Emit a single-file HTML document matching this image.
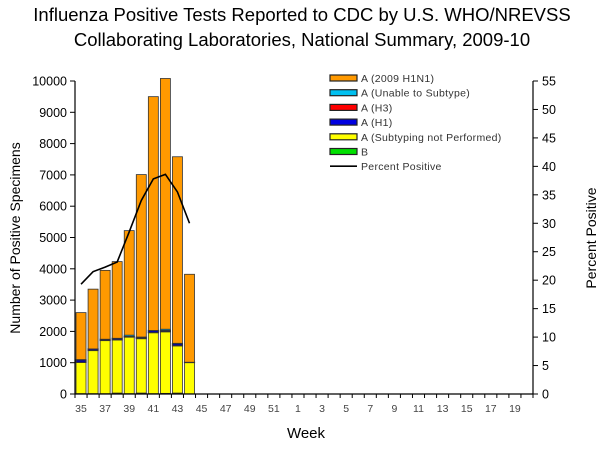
<!DOCTYPE html>
<html><head><meta charset="utf-8"><style>
body{margin:0;background:#fff;}
svg{display:block;font-family:"Liberation Sans",Arial,sans-serif;}
</style></head><body>
<svg id="chart" width="600" height="450" viewBox="0 0 600 450">
<text x="302" y="21" text-anchor="middle" font-size="18.5" fill="#000">Influenza Positive Tests Reported to CDC by U.S. WHO/NREVSS</text>
<text x="302" y="46" text-anchor="middle" font-size="18.5" fill="#000">Collaborating Laboratories, National Summary, 2009-10</text>
<g id="plot"></g>
<text transform="translate(20,238) rotate(-90)" text-anchor="middle" font-size="14">Number of Positive Specimens</text>
<text transform="translate(596,238) rotate(-90)" text-anchor="middle" font-size="14">Percent Positive</text>
<text x="306" y="438" text-anchor="middle" font-size="15">Week</text>
<g id="legend"></g>
</svg>
<script>
const weeks=[35,36,37,38,39,40,41,42,43,44,45,46,47,48,49,50,51,52,1,2,3,4,5,6,7,8,9,10,11,12,13,14,15,16,17,18,19,20];
const bVals=[10,10,10,30,10,30,10,20,30,5];
const notSubtyped=[1000,1380,1700,1700,1810,1740,1950,1970,1510,1000];
const h1Vals=[80,50,40,50,20,40,70,40,70,10];
const h3Vals=[0,0,0,0,0,0,0,0,0,0];
const unableVals=[10,0,0,0,40,10,0,40,10,0];
const h1n1Vals=[1500,1910,2200,2450,3340,5190,7470,8010,5960,2810];
const pctPos=[19.3,21.5,22.3,23.2,28.5,34,37.8,38.6,35.5,30];
const yTicks=[0,1000,2000,3000,4000,5000,6000,7000,8000,9000,10000];
const y2Ticks=[0,5,10,15,20,25,30,35,40,45,50,55];
const NS="http://www.w3.org/2000/svg";
const L=75,R=533,T=81,B=394,YMAX=10000,Y2MAX=55;
const band=(R-L)/weeks.length;
const xc=i=>L+band*(i+0.5);
const y=v=>B-(v/YMAX)*(B-T);
const y2=v=>B-(v/Y2MAX)*(B-T);
const plot=document.getElementById('plot');
function mk(tag,attrs){const e=document.createElementNS(NS,tag);for(const k in attrs)e.setAttribute(k,attrs[k]);plot.appendChild(e);return e;}
// bars
const series=[[bVals,'#00e000','b'],[notSubtyped,'#ffff00','not-subtyped'],[h1Vals,'#0000b0','h1'],[h3Vals,'#ff0000','h3'],[unableVals,'#00c0f0','unable'],[h1n1Vals,'#ff9900','h1n1']];
for(let i=0;i<notSubtyped.length;i++){
  let base=0;
  for(const [arr,col,nm] of series){
    const v=arr[i]; if(!v){continue;}
    const r=mk('rect',{x:xc(i)-5,y:y(base+v),width:10,height:y(base)-y(base+v),fill:col,stroke:'#333','stroke-width':(nm==='h1'?1.2:0.8)});
    
    
    base+=v;
  }
}
// axes
const ax=mk('path',{d:`M${L},${T}V${B}H${R}V${T}`,fill:'none',stroke:'#000','stroke-width':1.2});


yTicks.forEach(t=>{
  const ln=mk('line',{x1:L-5,x2:L,y1:y(t),y2:y(t),stroke:'#000'});
  
  
  const tx=mk('text',{x:L-8,y:y(t)+4.5,'text-anchor':'end','font-size':12.5});
  tx.textContent=t;
  
  
});
y2Ticks.forEach(t=>{
  const ln=mk('line',{x1:R,x2:R+5,y1:y2(t),y2:y2(t),stroke:'#000'});
  
  
  const tx=mk('text',{x:R+9,y:y2(t)+4.5,'font-size':12.5});
  tx.textContent=t;
  
  
});
for(let i=0;i<=weeks.length;i++){
  const ln=mk('line',{x1:L+band*i,x2:L+band*i,y1:B,y2:B+4,stroke:'#000'});
  
  
}
weeks.forEach((w,i)=>{
  if(i%2)return;
  const tx=mk('text',{x:xc(i),y:412,'text-anchor':'middle','font-size':10.5,fill:'#444'});
  tx.textContent=w;
  
  
});
// line
const pl=mk('polyline',{points:pctPos.map((v,i)=>xc(i)+','+y2(v)).join(' '),fill:'none',stroke:'#000','stroke-width':1.6});


// legend
const lg=document.getElementById('legend');
const items=[['A (2009 H1N1)','#ff9900'],['A (Unable to Subtype)','#00c0f0'],['A (H3)','#ff0000'],['A (H1)','#0000e0'],['A (Subtyping not Performed)','#ffff00'],['B','#00e000'],['Percent Positive',null]];
items.forEach((it,k)=>{
  const cy=78+k*14.7;
  const g=document.createElementNS(NS,'g');
  
  
  lg.appendChild(g);
  let s;
  if(it[1]){s=document.createElementNS(NS,'rect');s.setAttribute('x',330);s.setAttribute('y',cy-3);s.setAttribute('width',27);s.setAttribute('height',6);s.setAttribute('fill',it[1]);s.setAttribute('stroke','#222');s.setAttribute('stroke-width',1.2);}
  else{s=document.createElementNS(NS,'line');s.setAttribute('x1',330);s.setAttribute('x2',357);s.setAttribute('y1',cy);s.setAttribute('y2',cy);s.setAttribute('stroke','#000');s.setAttribute('stroke-width',1.6);}
  
  
  g.appendChild(s);
  const t=document.createElementNS(NS,'text');
  t.setAttribute('x',361);t.setAttribute('y',cy+4);t.setAttribute('font-size',10.5);t.setAttribute('fill','#333');t.setAttribute('letter-spacing','0.3');
  t.textContent=it[0];
  
  
  g.appendChild(t);
});
</script>
</body></html>
